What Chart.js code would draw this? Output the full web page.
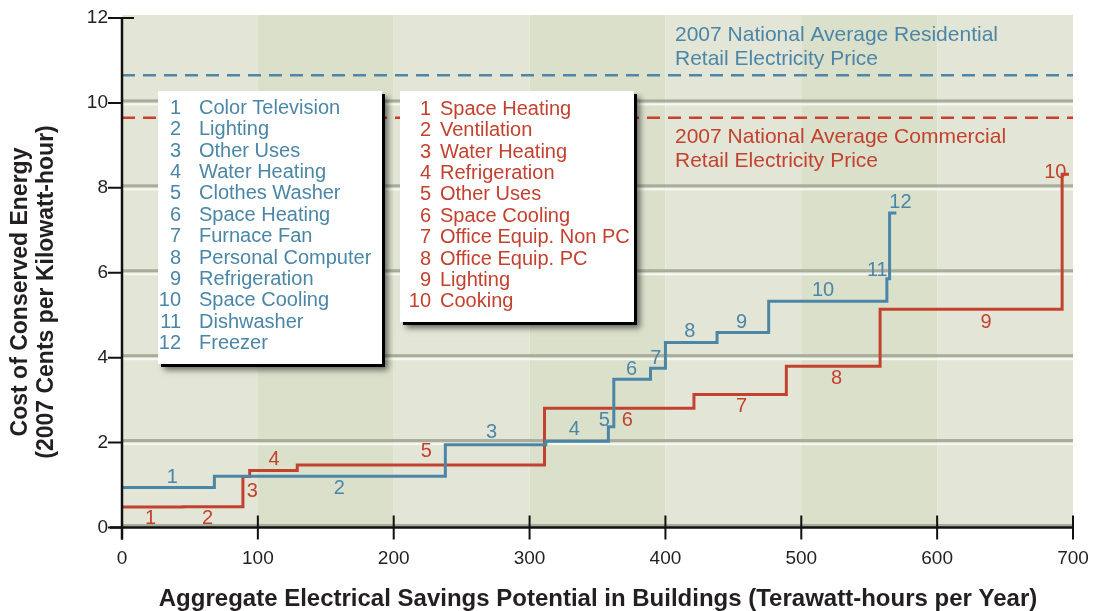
<!DOCTYPE html>
<html lang="en">
<head>
<meta charset="UTF-8" />
<title>Cost of Conserved Energy</title>
<script src="https://cdn.jsdelivr.net/npm/chart.js"></script>
<style>
  html, body { margin: 0; padding: 0; background: #fff; }
</style>
</head>
<body>
<canvas id="curve" width="1095" height="611"></canvas>

<script>
// Residential measures (blue), in order along the curve
const resMeasures = ['Color Television', 'Lighting', 'Other Uses', 'Water Heating', 'Clothes Washer',
  'Space Heating', 'Furnace Fan', 'Personal Computer', 'Refrigeration', 'Space Cooling', 'Dishwasher', 'Freezer'];
const resSavings = [68, 170, 74, 46, 4, 27, 11, 38, 38, 87, 2, 5];          // TWh per year
const resCost = [0.94, 1.21, 1.95, 2.03, 2.37, 3.49, 3.75, 4.36, 4.59, 5.33, 5.86, 7.41]; // cents/kWh
const resLabelX = [37, 160, 272, 333, 355, 375, 393, 418, 456, 516, 556, 573];
const resLabelY = [1.17, 0.93, 2.23, 2.32, 2.53, 3.71, 3.99, 4.61, 4.82, 5.59, 6.06, 7.66];

// Commercial measures (red)
const comMeasures = ['Space Heating', 'Ventilation', 'Water Heating', 'Refrigeration', 'Other Uses',
  'Space Cooling', 'Office Equip. Non PC', 'Office Equip. PC', 'Lighting', 'Cooking'];
const comSavings = [45, 44, 5, 35, 182, 110, 68, 69, 134, 5];
const comCost = [0.48, 0.49, 1.20, 1.34, 1.47, 2.81, 3.13, 3.80, 5.14, 8.32];
const comLabelX = [21, 63, 96, 112, 224, 372, 456, 526, 636, 687];
const comLabelY = [0.22, 0.22, 0.86, 1.61, 1.78, 2.53, 2.86, 3.52, 4.84, 8.35];

// 2007 national average retail electricity prices
const residentialPrice = 10.65;
const commercialPrice = 9.65;

const xTicks = [0, 100, 200, 300, 400, 500, 600, 700];
const yTicks = [0, 2, 4, 6, 8, 10, 12];

const BLUE = '#4b86a7';
const RED = '#c3412f';
const FONT = '"Liberation Sans", Arial, sans-serif';

// turn savings per measure into step points (start of each step + end of last one)
function stepPoints(savings, cost) {
  const pts = [];
  let x = 0;
  savings.forEach((s, i) => {
    pts.push({ x: x, y: cost[i] });
    x += s;
  });
  pts.push({ x: x, y: cost[cost.length - 1] });
  return pts;
}

function drawBox(ctx, x, y, w, h, color, items, numRight, textLeft, firstY, step) {
  ctx.save();
  ctx.shadowColor = 'rgba(0,0,0,0.55)';
  ctx.shadowBlur = 6;
  ctx.shadowOffsetX = 3;
  ctx.shadowOffsetY = 3;
  ctx.fillStyle = '#000';
  ctx.fillRect(x + 3, y + 3, w, h);
  ctx.restore();
  ctx.fillStyle = '#fff';
  ctx.fillRect(x, y, w, h);
  ctx.font = '20px ' + FONT;
  ctx.fillStyle = color;
  ctx.textBaseline = 'middle';
  items.forEach((name, i) => {
    const ty = firstY + i * step;
    ctx.textAlign = 'right';
    ctx.fillText(String(i + 1), numRight, ty);
    ctx.textAlign = 'left';
    ctx.fillText(name, textLeft, ty);
  });
}

const decor = {
  id: 'decor',
  beforeDraw(chart) {
    const ctx = chart.ctx;
    const ca = chart.chartArea;
    const xs = chart.scales.x, ys = chart.scales.y;
    ctx.save();
    ctx.fillStyle = '#fff';
    ctx.fillRect(0, 0, chart.width, chart.height);

    // alternating column bands every 100 TWh
    for (let i = 0; i < xTicks.length - 1; i++) {
      const a = xs.getPixelForValue(xTicks[i]);
      const b = xs.getPixelForValue(xTicks[i + 1]);
      ctx.fillStyle = i % 2 === 0 ? '#e3e6d6' : '#dbe0cb';
      ctx.fillRect(a, ca.top - 3, b - a, ca.bottom - ca.top + 3);
    }

    // horizontal grid: grey line with a white highlight underneath
    yTicks.forEach(v => {
      if (v === 12) return;
      const py = ys.getPixelForValue(v);
      ctx.fillStyle = '#a8ad9b';
      ctx.fillRect(ca.left, py - 3.5, ca.right - ca.left, 3);
      if (v > 0) {
        ctx.fillStyle = '#f7f8f1';
        ctx.fillRect(ca.left, py + 0.5, ca.right - ca.left, 2);
      }
    });

    // national average price lines
    ctx.lineWidth = 2.5;
    ctx.setLineDash([13, 8]);
    [[residentialPrice, '#4f86a6'], [commercialPrice, '#c9402e']].forEach(([v, c]) => {
      const py = ys.getPixelForValue(v);
      ctx.strokeStyle = c;
      ctx.beginPath();
      ctx.moveTo(ca.left, py);
      ctx.lineTo(ca.right, py);
      ctx.stroke();
    });
    ctx.setLineDash([]);

    ctx.font = '21px ' + FONT;
    ctx.textAlign = 'left';
    ctx.textBaseline = 'middle';
    ctx.fillStyle = BLUE;
    ctx.fillText('2007 National Average Residential', 675, 35);
    ctx.fillText('Retail Electricity Price', 675, 59);
    ctx.fillStyle = RED;
    ctx.fillText('2007 National Average Commercial', 675, 137);
    ctx.fillText('Retail Electricity Price', 675, 161);

    // legend boxes
    drawBox(ctx, 158, 91, 224, 273, BLUE, resMeasures, 181, 199, 108.5, 21.36);
    drawBox(ctx, 400, 91, 234, 231, RED, comMeasures, 431, 440, 109.5, 21.36);
    ctx.restore();
  },
  afterDatasetsDraw(chart) {
    const ctx = chart.ctx;
    const xs = chart.scales.x, ys = chart.scales.y;
    ctx.save();
    ctx.font = '20px ' + FONT;
    ctx.textAlign = 'center';
    ctx.textBaseline = 'middle';
    ctx.fillStyle = BLUE;
    resLabelX.forEach((x, i) => ctx.fillText(String(i + 1), xs.getPixelForValue(x), ys.getPixelForValue(resLabelY[i])));
    ctx.fillStyle = RED;
    comLabelX.forEach((x, i) => ctx.fillText(String(i + 1), xs.getPixelForValue(x), ys.getPixelForValue(comLabelY[i])));
    ctx.restore();
  },
  afterDraw(chart) {
    const ctx = chart.ctx;
    const ca = chart.chartArea;
    const xs = chart.scales.x, ys = chart.scales.y;
    ctx.save();
    ctx.strokeStyle = '#111';
    ctx.lineWidth = 2.5;
    ctx.beginPath();
    ctx.moveTo(ca.left, ys.getPixelForValue(12));
    ctx.lineTo(ca.left, ca.bottom + 12);
    ctx.moveTo(ca.left - 12, ca.bottom);
    ctx.lineTo(ca.right, ca.bottom);
    ctx.stroke();
    ctx.lineWidth = 2;
    ctx.beginPath();
    xTicks.forEach(v => {
      const px = xs.getPixelForValue(v);
      ctx.moveTo(px, ca.bottom - 12);
      ctx.lineTo(px, ca.bottom + 12);
    });
    yTicks.forEach(v => {
      const py = ys.getPixelForValue(v);
      ctx.moveTo(ca.left - 14, py);
      ctx.lineTo(ca.left + (v === 12 ? 12 : 0), py);
    });
    ctx.stroke();

    // axis titles
    ctx.fillStyle = '#231f20';
    ctx.font = 'bold 24px ' + FONT;
    ctx.textAlign = 'center';
    ctx.textBaseline = 'middle';
    ctx.fillText('Aggregate Electrical Savings Potential in Buildings (Terawatt-hours per Year)', 598, 599);
    ctx.translate(0, 292);
    ctx.rotate(-Math.PI / 2);
    ctx.font = 'bold 23px ' + FONT;
    ctx.fillText('Cost of Conserved Energy', 0, 21);
    ctx.fillText('(2007 Cents per Kilowatt-hour)', 0, 47);
    ctx.restore();
  }
};

new Chart(document.getElementById('curve'), {
  type: 'line',
  data: {
    datasets: [
      {
        label: 'Residential',
        data: stepPoints(resSavings, resCost),
        stepped: true,
        borderColor: BLUE,
        borderWidth: 3,
        pointRadius: 0,
        fill: false
      },
      {
        label: 'Commercial',
        data: stepPoints(comSavings, comCost),
        stepped: true,
        borderColor: RED,
        borderWidth: 3,
        pointRadius: 0,
        fill: false
      }
    ]
  },
  options: {
    responsive: false,
    animation: false,
    devicePixelRatio: 1,
    layout: { padding: { top: 18, right: 22, left: 0, bottom: 0 } },
    plugins: { legend: { display: false }, tooltip: { enabled: false } },
    scales: {
      x: {
        type: 'linear',
        min: 0, max: 700,
        afterBuildTicks: s => { s.ticks = xTicks.map(v => ({ value: v })); },
        afterFit: s => { s.height = 83.5; s.paddingLeft = 0; s.paddingRight = 0; },
        grid: { display: false },
        border: { display: false },
        ticks: { color: '#231f20', font: { size: 19, family: FONT }, padding: 12, maxRotation: 0 }
      },
      y: {
        min: 0, max: 12,
        afterBuildTicks: s => { s.ticks = yTicks.map(v => ({ value: v })); },
        afterFit: s => { s.width = 122; s.paddingTop = 0; s.paddingBottom = 0; },
        grid: { display: false },
        border: { display: false },
        ticks: { color: '#231f20', font: { size: 19, family: FONT }, padding: 6 }
      }
    }
  },
  plugins: [decor]
});
</script>
</body>
</html>
